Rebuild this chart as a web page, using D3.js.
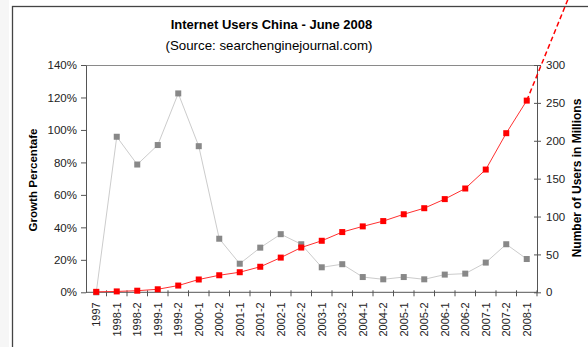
<!DOCTYPE html>
<html>
<head>
<meta charset="utf-8">
<script src="https://cdn.jsdelivr.net/npm/d3@7"></script>
<style>
  html, body { margin: 0; padding: 0; background: #ffffff; }
  svg { display: block; font-family: "Liberation Sans", Arial, sans-serif; }
</style>
</head>
<body>
<svg id="chart" width="588" height="347"></svg>
<script>
// Half-year periods
const periods = ["1997", "1998-1", "1998-2", "1999-1", "1999-2", "2000-1", "2000-2",
  "2001-1", "2001-2", "2002-1", "2002-2", "2003-1", "2003-2", "2004-1", "2004-2",
  "2005-1", "2005-2", "2006-1", "2006-2", "2007-1", "2007-2", "2008-1"];

// Internet users in China, millions (right axis)
const users = [0.62, 1.17, 2.1, 4, 8.9, 16.9, 22.5, 26.5, 33.7, 45.8, 59.1, 68, 79.5,
  87, 94, 103, 111, 123, 137, 162, 210, 253];

// Growth over the previous period, percent (left axis)
const growth = [0, 95.8, 78.7, 90.7, 122.5, 90, 33, 17.6, 27.5, 35.8, 29.6, 15.4, 17.3,
  9.4, 8, 9.4, 8, 10.9, 11.5, 18.3, 29.6, 20.5];

// Projected trend beyond the last period: [period index, users in millions]
const projection = [[21, 253], [23, 386]];

// Axis ticks
const growthTicks = [0, 20, 40, 60, 80, 100, 120, 140];
const userTicks = [0, 50, 100, 150, 200, 250, 300];

const svg = d3.select("#chart");
const plotLeft = 86, plotRight = 537, plotTop = 65, plotBottom = 292.3;

// light margin strip and chart frame
svg.append("rect").attr("x", 0).attr("y", 0).attr("width", 9).attr("height", 347).attr("fill", "#f6f6f6");
svg.append("rect").attr("x", 12.5).attr("y", 6.5).attr("width", 700).attr("height", 500)
  .attr("fill", "none").attr("stroke", "#444").attr("stroke-width", 1.3);

// titles
svg.append("text").attr("x", 271.5).attr("y", 29).attr("text-anchor", "middle")
  .attr("font-size", 13).attr("font-weight", "bold").attr("fill", "#000")
  .text("Internet Users China - June 2008");
svg.append("text").attr("x", 269).attr("y", 50).attr("text-anchor", "middle")
  .attr("font-size", 13.3).attr("fill", "#000")
  .text("(Source: searchenginejournal.com)");

// scales
const x = d3.scaleBand().domain(periods).range([plotLeft, plotRight]).padding(0);
const xi = d3.scaleLinear().domain([0, periods.length]).range([plotLeft, plotRight]);
const yL = d3.scaleLinear().domain([0, 140]).range([plotBottom, plotTop]);
const yR = d3.scaleLinear().domain([0, 300]).range([plotBottom, plotTop]);
const cx = i => x(periods[i]) + x.bandwidth() / 2;

// top plot border
svg.append("line").attr("x1", plotLeft).attr("x2", plotRight)
  .attr("y1", plotTop + 0.5).attr("y2", plotTop + 0.5)
  .attr("stroke", "#8a8a8a").attr("stroke-width", 1);

// left axis
const gL = svg.append("g").attr("transform", `translate(${plotLeft},0)`)
  .call(d3.axisLeft(yL).tickValues(growthTicks).tickSize(5).tickSizeOuter(0)
    .tickFormat(d => d + "%"));
gL.select(".domain").attr("stroke", "#555");
gL.selectAll(".tick line").attr("stroke", "#555");
gL.selectAll(".tick text").attr("font-size", 11.5).attr("fill", "#222").attr("x", -9)
  .attr("font-family", "Liberation Sans, Arial, sans-serif");

// right axis
const gR = svg.append("g").attr("transform", `translate(${plotRight},0)`)
  .call(d3.axisRight(yR).tickValues(userTicks).tickSize(4).tickSizeOuter(0));
gR.select(".domain").attr("stroke", "#555");
gR.selectAll(".tick line").attr("stroke", "#555").attr("x1", -3);
gR.selectAll(".tick text").attr("font-size", 11.5).attr("fill", "#222").attr("x", 9)
  .attr("font-family", "Liberation Sans, Arial, sans-serif");

// bottom axis: boundary ticks and rotated period labels
const gB = svg.append("g").attr("transform", `translate(0,${plotBottom})`);
gB.append("line").attr("x1", plotLeft).attr("x2", plotRight).attr("stroke", "#555");
gB.selectAll("line.tk").data(d3.range(1, periods.length + 1)).join("line")
  .attr("class", "tk").attr("x1", d => xi(d)).attr("x2", d => xi(d))
  .attr("y1", -2).attr("y2", 4).attr("stroke", "#555");
gB.selectAll("text").data(periods).join("text")
  .attr("transform", d => `translate(${x(d) + x.bandwidth() / 2},10) rotate(-90)`)
  .attr("text-anchor", "end").attr("dy", "0.35em")
  .attr("font-size", 11).attr("fill", "#222").text(d => d);

// axis titles
svg.append("text").attr("transform", "translate(33,180) rotate(-90)")
  .attr("text-anchor", "middle").attr("dy", "0.35em")
  .attr("font-size", 11.6).attr("font-weight", "bold").attr("fill", "#000")
  .text("Growth Percentafe");
svg.append("text").attr("transform", "translate(577,178) rotate(-90)")
  .attr("text-anchor", "middle").attr("dy", "0.35em")
  .attr("font-size", 12).attr("font-weight", "bold").attr("fill", "#000")
  .text("Number of Users in Millions");

// growth series
const growthLine = d3.line().x((d, i) => cx(i)).y(d => yL(d));
svg.append("path").datum(growth).attr("d", growthLine)
  .attr("fill", "none").attr("stroke", "#cccccc").attr("stroke-width", 1);
svg.selectAll("rect.g").data(growth).join("rect").attr("class", "g")
  .attr("x", (d, i) => cx(i) - 3).attr("y", d => yL(d) - 3)
  .attr("width", 6).attr("height", 6).attr("fill", "#888888");

// projected trend
svg.append("path").datum(projection)
  .attr("d", d3.line().x(d => xi(d[0] + 0.5)).y(d => yR(d[1])))
  .attr("fill", "none").attr("stroke", "#ff0000").attr("stroke-width", 1.5)
  .attr("stroke-dasharray", "5,3");

// users series
const usersLine = d3.line().x((d, i) => cx(i)).y(d => yR(d));
svg.append("path").datum(users).attr("d", usersLine)
  .attr("fill", "none").attr("stroke", "#ff3030").attr("stroke-width", 1);
svg.selectAll("rect.u").data(users).join("rect").attr("class", "u")
  .attr("x", (d, i) => cx(i) - 3).attr("y", d => yR(d) - 3)
  .attr("width", 6).attr("height", 6).attr("fill", "#ff0000");
</script>
</body>
</html>
